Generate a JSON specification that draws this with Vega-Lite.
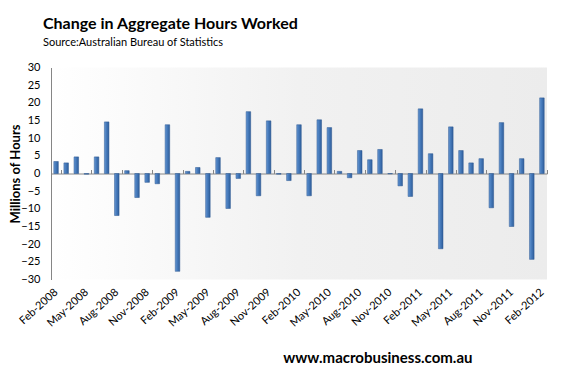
{
  "$schema": "https://vega.github.io/schema/vega-lite/v6.json",
  "width": 496,
  "height": 212,
  "autosize": "none",
  "padding": {"left": 51, "top": 67.5, "right": 14, "bottom": 96.5},
  "background": "white",
  "title": {
    "text": "Change in Aggregate Hours Worked",
    "subtitle": "Source:Australian Bureau of Statistics",
    "anchor": "start",
    "frame": "group",
    "dx": -8,
    "offset": 14,
    "font": "Lato",
    "fontSize": 16,
    "fontWeight": "bold",
    "color": "#000000",
    "subtitleFont": "Lato",
    "subtitleFontSize": 11,
    "subtitleColor": "#000000",
    "subtitlePadding": 5
  },
  "data": {
    "values": [
      {"month": "Feb-2008", "value": 3.4},
      {"month": "Mar-2008", "value": 3.0},
      {"month": "Apr-2008", "value": 4.7},
      {"month": "May-2008", "value": -0.2},
      {"month": "Jun-2008", "value": 4.7},
      {"month": "Jul-2008", "value": 14.6},
      {"month": "Aug-2008", "value": -11.9},
      {"month": "Sep-2008", "value": 0.8},
      {"month": "Oct-2008", "value": -6.8},
      {"month": "Nov-2008", "value": -2.5},
      {"month": "Dec-2008", "value": -2.9},
      {"month": "Jan-2009", "value": 13.8},
      {"month": "Feb-2009", "value": -27.7},
      {"month": "Mar-2009", "value": 0.6},
      {"month": "Apr-2009", "value": 1.7},
      {"month": "May-2009", "value": -12.4},
      {"month": "Jun-2009", "value": 4.5},
      {"month": "Jul-2009", "value": -9.9},
      {"month": "Aug-2009", "value": -1.4},
      {"month": "Sep-2009", "value": 17.5},
      {"month": "Oct-2009", "value": -6.3},
      {"month": "Nov-2009", "value": 14.9},
      {"month": "Dec-2009", "value": -0.2},
      {"month": "Jan-2010", "value": -2.0},
      {"month": "Feb-2010", "value": 13.8},
      {"month": "Mar-2010", "value": -6.3},
      {"month": "Apr-2010", "value": 15.2},
      {"month": "May-2010", "value": 13.0},
      {"month": "Jun-2010", "value": 0.6},
      {"month": "Jul-2010", "value": -1.2},
      {"month": "Aug-2010", "value": 6.5},
      {"month": "Sep-2010", "value": 3.9},
      {"month": "Oct-2010", "value": 6.8},
      {"month": "Nov-2010", "value": -0.1},
      {"month": "Dec-2010", "value": -3.5},
      {"month": "Jan-2011", "value": -6.5},
      {"month": "Feb-2011", "value": 18.3},
      {"month": "Mar-2011", "value": 5.6},
      {"month": "Apr-2011", "value": -21.3},
      {"month": "May-2011", "value": 13.2},
      {"month": "Jun-2011", "value": 6.5},
      {"month": "Jul-2011", "value": 3.0},
      {"month": "Aug-2011", "value": 4.2},
      {"month": "Sep-2011", "value": -9.7},
      {"month": "Oct-2011", "value": 14.4},
      {"month": "Nov-2011", "value": -15.0},
      {"month": "Dec-2011", "value": 4.2},
      {"month": "Jan-2012", "value": -24.3},
      {"month": "Feb-2012", "value": 21.4}
    ]
  },
  "mark": {
    "type": "bar",
    "width": {"band": 0.45},
    "fill": {
      "gradient": "linear",
      "x1": 0, "y1": 0, "x2": 1, "y2": 0,
      "stops": [
        {"offset": 0, "color": "#6b9ad4"},
        {"offset": 0.35, "color": "#4a7fc0"},
        {"offset": 1, "color": "#2f5e9b"}
      ]
    },
    "stroke": "#2a5690",
    "strokeWidth": 0.5
  },
  "encoding": {
    "x": {
      "field": "month",
      "type": "ordinal",
      "sort": null,
      "scale": {"paddingInner": 0, "paddingOuter": 0},
      "axis": {
        "orient": "bottom",
        "offset": -106,
        "domain": true,
        "domainColor": "#868686",
        "domainWidth": 1,
        "ticks": true,
        "tickBand": "extent",
        "tickSize": -4,
        "tickColor": "#868686",
        "values": ["Feb-2008", "May-2008", "Aug-2008", "Nov-2008", "Feb-2009", "May-2009", "Aug-2009", "Nov-2009", "Feb-2010", "May-2010", "Aug-2010", "Nov-2010", "Feb-2011", "May-2011", "Aug-2011", "Nov-2011", "Feb-2012"],
        "labelAngle": -42,
        "labelAlign": "right",
        "labelBaseline": "middle",
        "labelPadding": 121,
        "labelFont": "Lato",
        "labelFontSize": 11,
        "labelColor": "#000000",
        "labelOverlap": false,
        "labelFlush": false,
        "title": "www.macrobusiness.com.au",
        "titleFont": "Lato",
        "titleFontSize": 15,
        "titleFontWeight": "bold",
        "titleColor": "#000000",
        "titleAlign": "right",
        "titleBaseline": "middle",
        "titleX": 421,
        "titleY": 184
      }
    },
    "y": {
      "field": "value",
      "type": "quantitative",
      "scale": {"domain": [-30, 30], "nice": false},
      "axis": {
        "values": [-30, -25, -20, -15, -10, -5, 0, 5, 10, 15, 20, 25, 30],
        "grid": false,
        "ticks": false,
        "domainColor": "#868686",
        "labelPadding": 11,
        "labelFont": "Lato",
        "labelFontSize": 11,
        "labelColor": "#000000",
        "title": "Millions of Hours",
        "titleFont": "Lato",
        "titleFontSize": 13,
        "titleFontWeight": "bold",
        "titleColor": "#000000",
        "titleAngle": -90,
        "titleAlign": "center",
        "titleBaseline": "middle",
        "titleX": -36,
        "titleY": 106
      }
    }
  },
  "config": {
    "font": "Lato",
    "view": {
      "stroke": null,
      "fill": {
        "gradient": "linear",
        "x1": 0, "y1": 0, "x2": 1, "y2": 0,
        "stops": [
          {"offset": 0, "color": "#ffffff"},
          {"offset": 0.5, "color": "#f1f1f1"},
          {"offset": 1, "color": "#ececec"}
        ]
      }
    }
  }
}
